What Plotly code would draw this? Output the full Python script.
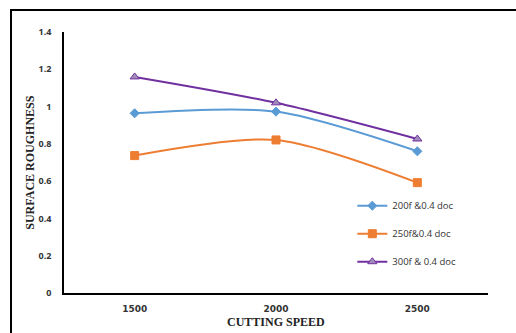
import plotly.graph_objects as go

speeds = ["1500", "2000", "2500"]
series_names = ["200f &0.4 doc", "250f&0.4 doc", "300f & 0.4 doc"]
ra_200f = [0.964, 0.973, 0.760]
ra_250f = [0.737, 0.821, 0.592]
ra_300f = [1.159, 1.020, 0.826]
y_ticks = [0, 0.2, 0.4, 0.6, 0.8, 1, 1.2, 1.4]

fig = go.Figure()

styles = [
    dict(color="#5B9BD5", symbol="diamond", size=7, fill="#5B9BD5"),
    dict(color="#ED7D31", symbol="square", size=8, fill="#ED7D31"),
    dict(color="#7030A0", symbol="triangle-up", size=8, fill="#A08CB8"),
]
for name, vals, st in zip(series_names, [ra_200f, ra_250f, ra_300f], styles):
    fig.add_trace(go.Scatter(
        x=speeds, y=vals, name=name, mode="lines+markers",
        line=dict(color=st["color"], width=2, shape="spline", smoothing=0.8),
        marker=dict(symbol=st["symbol"], size=st["size"], color=st["fill"],
                    line=dict(color=st["color"], width=1)),
        legendgroup=name,
    ))

# outer frame around the chart
fig.add_shape(type="rect", xref="paper", yref="paper",
              x0=-0.125, x1=1.3, y0=-0.3, y1=1.084,
              line=dict(color="black", width=2), layer="below")

title_font = dict(family="Liberation Serif", size=12, color="#222222", weight="bold")
fig.add_annotation(text="CUTTING SPEED", xref="paper", yref="paper",
                   x=0.5, y=-0.11, xanchor="center", yanchor="middle",
                   showarrow=False, font=title_font)
fig.add_annotation(text="SURFACE ROUGHNESS", xref="paper", yref="paper",
                   x=-0.082, y=0.5, xanchor="center", yanchor="middle",
                   textangle=-90, showarrow=False, font=title_font)

fig.update_layout(
    width=516, height=333,
    margin=dict(l=64, r=28, t=32, b=40),
    plot_bgcolor="white", paper_bgcolor="white",
    font=dict(family="Open Sans", size=9, color="#333333"),
    showlegend=True,
    legend=dict(x=0.68, y=0.39, xanchor="left", yanchor="top",
                font=dict(family="Open Sans", size=9.5, color="#333333"),
                tracegroupgap=9, traceorder="grouped",
                bgcolor="rgba(0,0,0,0)", itemwidth=30),
    xaxis=dict(
        type="category", range=[-0.5, 2.5], automargin=False,
        showline=True, linecolor="black", linewidth=2,
        showgrid=False, ticks="", ticklabelstandoff=6,
        tickfont=dict(family="DejaVu Sans", size=9, color="#333333", weight="bold"),
    ),
    yaxis=dict(
        range=[0, 1.4], tickvals=y_ticks, ticktext=[f"{v:g}" for v in y_ticks],
        automargin=False,
        showline=True, linecolor="black", linewidth=1.5,
        showgrid=False, ticks="", ticklabelstandoff=9, zeroline=False,
        tickfont=dict(family="Open Sans", size=9, color="#333333", weight="bold"),
    ),
)

fig.write_html("out.html")
